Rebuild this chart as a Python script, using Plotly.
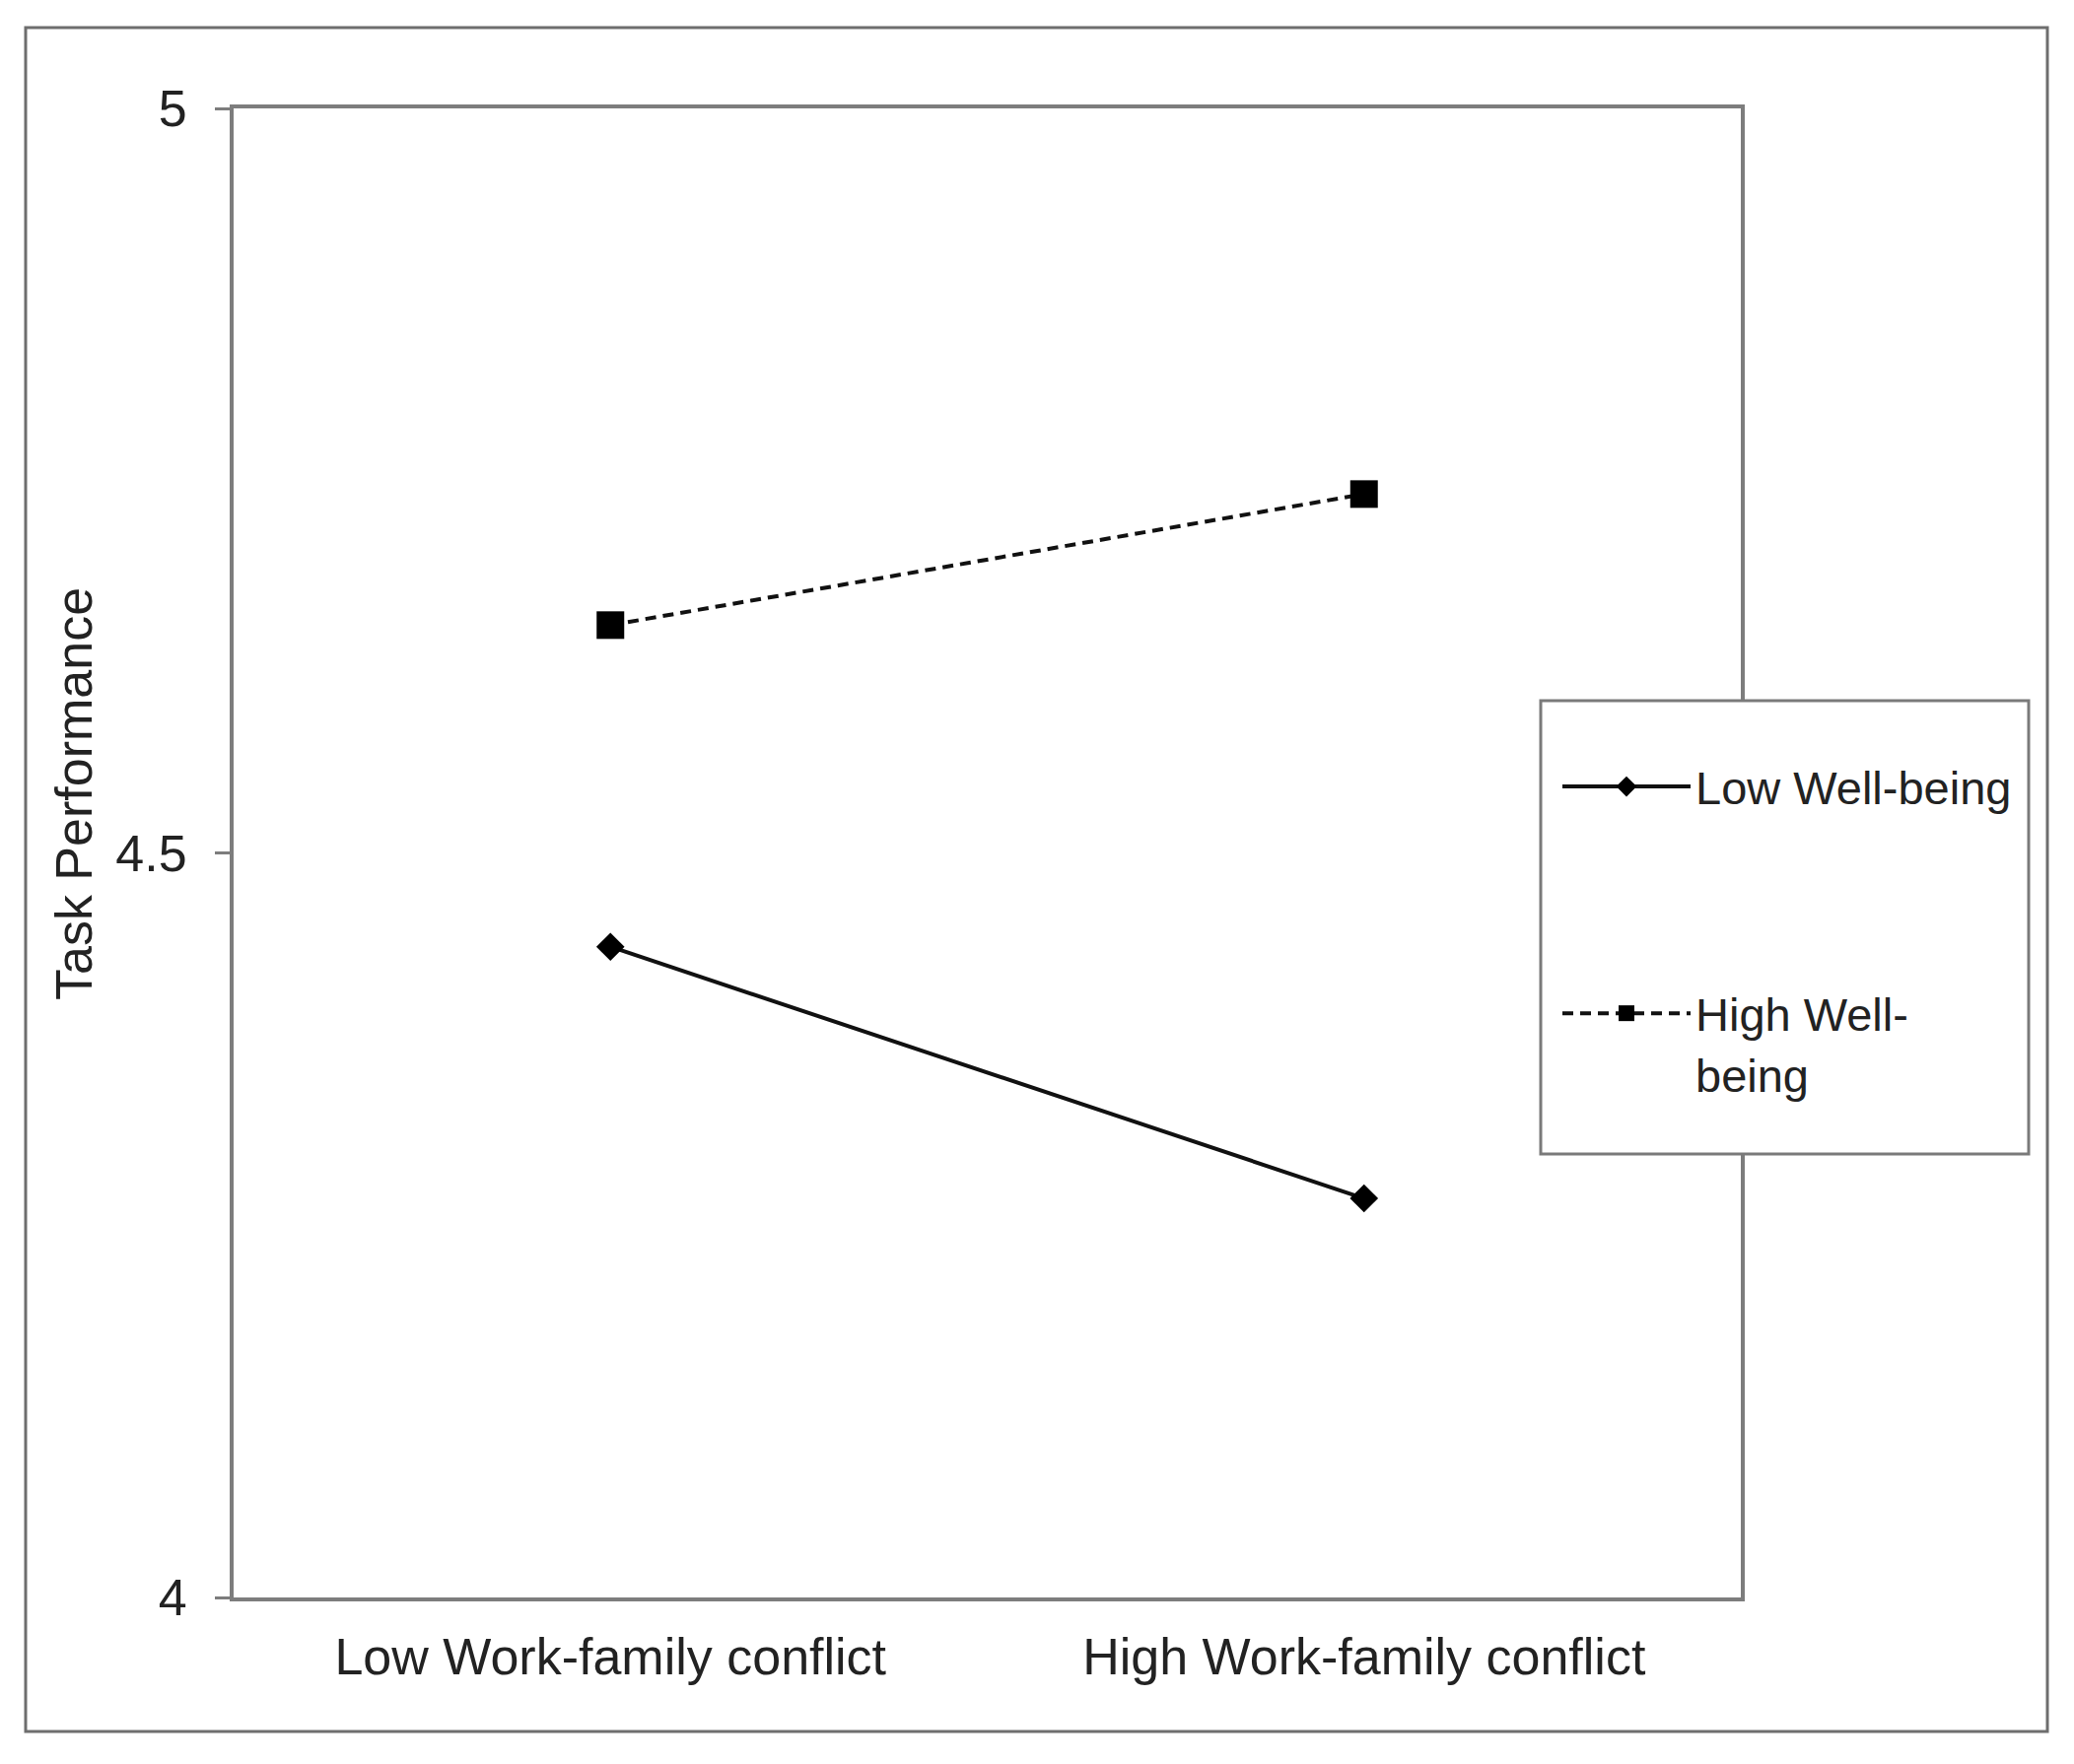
import plotly.graph_objects as go

categories = ["Low Work-family conflict", "High Work-family conflict"]
series_names = ["Low Well-being", "High Well-<br>being"]
low_wellbeing = [4.437, 4.268]
high_wellbeing = [4.653, 4.741]
y_ticks = [4, 4.5, 5]
y_tick_labels = ["4", "4.5", "5"]

FONT = "Liberation Sans, Arial, sans-serif"
TXT = "#222222"

W, H = 2104, 1790
OFF = 8  # page body margin
# plot area in screenshot pixels
X0, X1, Y0, Y1 = 237, 1766, 110, 1621
L, R, T, B = X0 - OFF, W - (X1 - OFF), Y0 - OFF, H - (Y1 - OFF)
pw, ph = W - L - R, H - T - B

def px(x):
    return (x - OFF - L) / pw

def py(y):
    return (H - B - (y - OFF)) / ph

fig = go.Figure()
fig.add_trace(go.Scatter(
    x=categories, y=low_wellbeing, name=series_names[0], mode="lines+markers",
    line=dict(color="#111111", width=4),
    marker=dict(symbol="diamond", size=22, color="#000000"),
    legendgroup="a",
))
fig.add_trace(go.Scatter(
    x=categories, y=high_wellbeing, name=series_names[1], mode="lines+markers",
    line=dict(color="#111111", width=4, dash="11px,7px"),
    marker=dict(symbol="square", size=28, color="#000000"),
    legendgroup="b",
))

fig.update_layout(
    width=W, height=H,
    margin=dict(l=L, r=R, t=T, b=B, pad=0),
    paper_bgcolor="white", plot_bgcolor="white",
    font=dict(family=FONT, size=52, color=TXT),
    showlegend=True,
    legend=dict(
        x=px(1580), y=py(761), xanchor="left", yanchor="top",
        bgcolor="rgba(0,0,0,0)", borderwidth=0,
        font=dict(family=FONT, size=47, color=TXT),
        traceorder="grouped", tracegroupgap=166, itemwidth=130,
        itemsizing="trace", valign="top",
    ),
    xaxis=dict(
        type="category", range=[-0.5, 1.5], showgrid=False, zeroline=False,
        showline=True, mirror=True, linecolor="#7d7d7d", linewidth=4,
        ticks="", ticklabelstandoff=12,
        tickfont=dict(family=FONT, size=52, color=TXT),
    ),
    yaxis=dict(
        range=[4, 5], tickvals=y_ticks, ticktext=y_tick_labels,
        showgrid=False, zeroline=False,
        showline=True, mirror=True, linecolor="#7d7d7d", linewidth=4,
        ticks="outside", ticklen=15, tickwidth=3, tickcolor="#7d7d7d",
        ticklabelstandoff=18,
        tickfont=dict(family=FONT, size=52, color=TXT),
    ),
    annotations=[dict(
        text="Task Performance", textangle=-90, showarrow=False,
        xref="paper", yref="paper", x=px(75), y=py(806),
        xanchor="center", yanchor="middle",
        font=dict(family=FONT, size=52, color=TXT),
    )],
    shapes=[
        dict(type="rect", xref="paper", yref="paper",
             x0=px(26), x1=px(2077), y0=py(1757), y1=py(28),
             line=dict(color="#6e6e6e", width=3), layer="below"),
        dict(type="rect", xref="paper", yref="paper",
             x0=px(1563), x1=px(2058), y0=py(1171), y1=py(711),
             line=dict(color="#7a7a7a", width=3), fillcolor="white", layer="above"),
    ],
)

fig.write_html("out.html")
